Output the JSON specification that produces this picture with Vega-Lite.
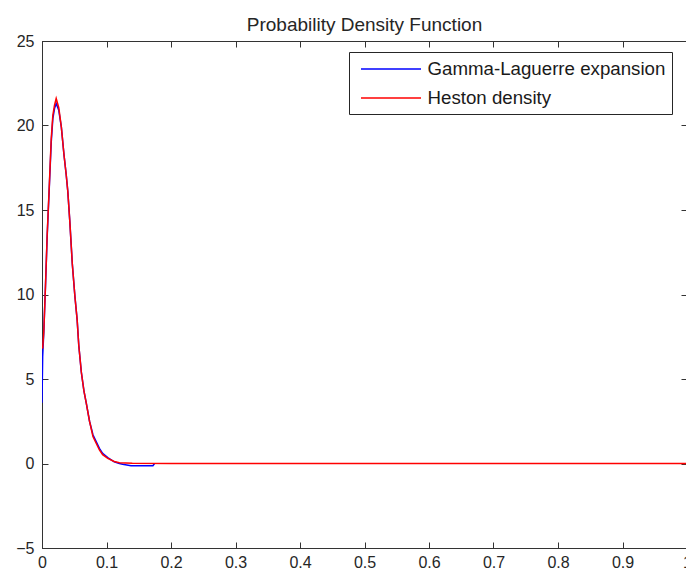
{
  "$schema": "https://vega.github.io/schema/vega-lite/v6.json",
  "width": 645,
  "height": 507,
  "autosize": "none",
  "padding": {"left": 42, "top": 41, "right": 0, "bottom": 29},
  "background": "white",
  "title": {"text": "Probability Density Function", "fontSize": 19, "fontWeight": "normal", "font": "Liberation Sans", "color": "#262626", "anchor": "middle", "frame": "group", "offset": -17, "baseline": "alphabetic"},
  "config": {
    "view": {"stroke": "#333333", "strokeWidth": 1},
    "axis": {"grid": false, "domainColor": "#333333", "tickColor": "#333333", "tickSize": -6, "labelFont": "Liberation Sans", "labelFontSize": 16, "labelColor": "#262626", "title": null, "labelOverlap": false, "labelFlush": false},
    "legend": {"orient": "none", "legendX": 307, "legendY": 11, "title": null, "strokeColor": "#262626", "fillColor": "white", "padding": 6, "symbolType": "M-1,0H5", "symbolSize": 400, "symbolStrokeWidth": 1.5, "symbolFillColor": "transparent", "labelFont": "Liberation Sans", "labelFontSize": 18.7, "labelColor": "#1a1a1a", "labelOffset": 45.5, "symbolOffset": 5, "rowPadding": 8, "labelLimit": 400}
  },
  "data": {"values": [
    {"series": "Gamma-Laguerre expansion", "x": 0.0, "y": 3.6},
    {"series": "Gamma-Laguerre expansion", "x": 0.001, "y": 6.3},
    {"series": "Gamma-Laguerre expansion", "x": 0.0028, "y": 7.8},
    {"series": "Gamma-Laguerre expansion", "x": 0.0054, "y": 10.5},
    {"series": "Gamma-Laguerre expansion", "x": 0.008, "y": 13.4},
    {"series": "Gamma-Laguerre expansion", "x": 0.0116, "y": 16.6},
    {"series": "Gamma-Laguerre expansion", "x": 0.0143, "y": 19.0},
    {"series": "Gamma-Laguerre expansion", "x": 0.0168, "y": 20.4},
    {"series": "Gamma-Laguerre expansion", "x": 0.0194, "y": 21.0},
    {"series": "Gamma-Laguerre expansion", "x": 0.022, "y": 21.3},
    {"series": "Gamma-Laguerre expansion", "x": 0.026, "y": 20.9},
    {"series": "Gamma-Laguerre expansion", "x": 0.03, "y": 19.9},
    {"series": "Gamma-Laguerre expansion", "x": 0.034, "y": 18.3},
    {"series": "Gamma-Laguerre expansion", "x": 0.0375, "y": 17.1},
    {"series": "Gamma-Laguerre expansion", "x": 0.04, "y": 16.1},
    {"series": "Gamma-Laguerre expansion", "x": 0.043, "y": 14.4},
    {"series": "Gamma-Laguerre expansion", "x": 0.047, "y": 11.8},
    {"series": "Gamma-Laguerre expansion", "x": 0.051, "y": 9.9},
    {"series": "Gamma-Laguerre expansion", "x": 0.0545, "y": 8.5},
    {"series": "Gamma-Laguerre expansion", "x": 0.057, "y": 7.0},
    {"series": "Gamma-Laguerre expansion", "x": 0.061, "y": 5.4},
    {"series": "Gamma-Laguerre expansion", "x": 0.065, "y": 4.3},
    {"series": "Gamma-Laguerre expansion", "x": 0.0685, "y": 3.6},
    {"series": "Gamma-Laguerre expansion", "x": 0.0737, "y": 2.5},
    {"series": "Gamma-Laguerre expansion", "x": 0.079, "y": 1.7},
    {"series": "Gamma-Laguerre expansion", "x": 0.084, "y": 1.3},
    {"series": "Gamma-Laguerre expansion", "x": 0.089, "y": 0.9},
    {"series": "Gamma-Laguerre expansion", "x": 0.094, "y": 0.6},
    {"series": "Gamma-Laguerre expansion", "x": 0.102, "y": 0.35},
    {"series": "Gamma-Laguerre expansion", "x": 0.112, "y": 0.1},
    {"series": "Gamma-Laguerre expansion", "x": 0.12, "y": 0.0},
    {"series": "Gamma-Laguerre expansion", "x": 0.125, "y": -0.05},
    {"series": "Gamma-Laguerre expansion", "x": 0.138, "y": -0.13},
    {"series": "Gamma-Laguerre expansion", "x": 0.172, "y": -0.13},
    {"series": "Gamma-Laguerre expansion", "x": 0.1745, "y": 0.0},
    {"series": "Heston density", "x": 0.001, "y": 6.8},
    {"series": "Heston density", "x": 0.0028, "y": 7.8},
    {"series": "Heston density", "x": 0.0054, "y": 10.5},
    {"series": "Heston density", "x": 0.008, "y": 13.5},
    {"series": "Heston density", "x": 0.0116, "y": 16.7},
    {"series": "Heston density", "x": 0.0143, "y": 19.2},
    {"series": "Heston density", "x": 0.0168, "y": 20.6},
    {"series": "Heston density", "x": 0.0194, "y": 21.2},
    {"series": "Heston density", "x": 0.022, "y": 21.6},
    {"series": "Heston density", "x": 0.026, "y": 21.05},
    {"series": "Heston density", "x": 0.03, "y": 19.9},
    {"series": "Heston density", "x": 0.034, "y": 18.3},
    {"series": "Heston density", "x": 0.0375, "y": 17.1},
    {"series": "Heston density", "x": 0.04, "y": 16.1},
    {"series": "Heston density", "x": 0.043, "y": 14.4},
    {"series": "Heston density", "x": 0.047, "y": 11.8},
    {"series": "Heston density", "x": 0.051, "y": 9.9},
    {"series": "Heston density", "x": 0.0545, "y": 8.5},
    {"series": "Heston density", "x": 0.057, "y": 7.0},
    {"series": "Heston density", "x": 0.061, "y": 5.4},
    {"series": "Heston density", "x": 0.065, "y": 4.3},
    {"series": "Heston density", "x": 0.0685, "y": 3.6},
    {"series": "Heston density", "x": 0.0737, "y": 2.5},
    {"series": "Heston density", "x": 0.079, "y": 1.6},
    {"series": "Heston density", "x": 0.084, "y": 1.2},
    {"series": "Heston density", "x": 0.089, "y": 0.8},
    {"series": "Heston density", "x": 0.094, "y": 0.52},
    {"series": "Heston density", "x": 0.102, "y": 0.3},
    {"series": "Heston density", "x": 0.112, "y": 0.12},
    {"series": "Heston density", "x": 0.12, "y": 0.05},
    {"series": "Heston density", "x": 0.14, "y": 0.02},
    {"series": "Heston density", "x": 0.2, "y": 0.0},
    {"series": "Heston density", "x": 0.5, "y": 0.0},
    {"series": "Heston density", "x": 1.0, "y": 0.0}
  ]},
  "layer": [
    {
      "mark": {"type": "line", "strokeWidth": 1.5, "clip": true},
      "encoding": {
        "x": {"field": "x", "type": "quantitative", "scale": {"domain": [0, 1], "nice": false}, "axis": {"orient": "bottom", "values": [0, 0.1, 0.2, 0.3, 0.4, 0.5, 0.6, 0.7, 0.8, 0.9, 1], "format": "~g", "labelPadding": 12}},
        "y": {"field": "y", "type": "quantitative", "scale": {"domain": [-5, 25], "nice": false, "zero": false}, "axis": {"orient": "left", "values": [-5, 0, 5, 10, 15, 20, 25], "labelPadding": 14}},
        "color": {"field": "series", "type": "nominal", "scale": {"domain": ["Gamma-Laguerre expansion", "Heston density"], "range": ["#0000FF", "#FF0000"]}}
      }
    },
    {
      "mark": {"type": "line", "strokeOpacity": 0},
      "encoding": {
        "x": {"field": "x", "type": "quantitative", "axis": {"orient": "top", "values": [0, 0.1, 0.2, 0.3, 0.4, 0.5, 0.6, 0.7, 0.8, 0.9, 1], "labels": false}},
        "y": {"field": "y", "type": "quantitative", "axis": {"orient": "right", "values": [-5, 0, 5, 10, 15, 20, 25], "labels": false}}
      }
    }
  ],
  "resolve": {"axis": {"x": "independent", "y": "independent"}}
}
